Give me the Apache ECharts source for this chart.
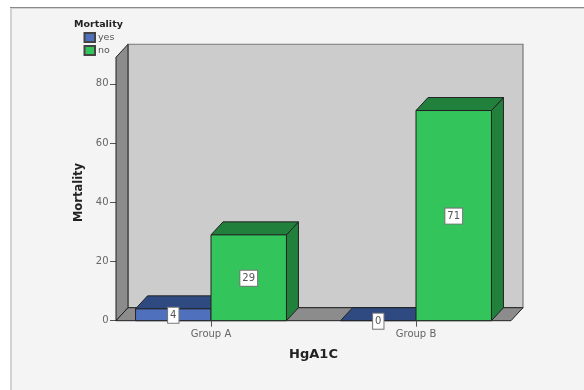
<!DOCTYPE html>
<html>
<head>
<meta charset="utf-8">
<style>html,body{margin:0;padding:0;background:#fff}#chart{width:584px;height:390px}</style>
<script src="https://cdn.jsdelivr.net/npm/echarts@6/dist/echarts.min.js"></script>
</head>
<body>
<div id="chart"></div>
<script>
// Mortality counts by HgA1C group
const categories = ['Group A', 'Group B'];
const yesValues = [4, 0];
const noValues = [29, 71];
const yTicks = [0, 20, 40, 60, 80];

const DEPTH_X = 12, DEPTH_Y = 13;     // oblique offset of the 3D box
const BAR_RATIO = 0.368;              // bar width as a share of one category band
const WALL_MARGIN = 0.4634;           // floor overhang from the first/last category centre
const WALL_TOP = 89;
const EDGE = '#222';

const poly = (points, fill, stroke, width) => ({
  type: 'polygon',
  shape: { points },
  style: { fill, stroke: stroke || EDGE, lineWidth: width === undefined ? 1 : width }
});

// Left wall, back wall and floor of the plot box
function renderChamber(params, api) {
  const band = api.size([1, 0])[0];
  const first = api.coord([0, 0]);
  const last = api.coord([1, 0]);
  const top = api.coord([0, WALL_TOP])[1];
  const l = first[0] - band * WALL_MARGIN;
  const r = last[0] + band * WALL_MARGIN;
  const y0 = first[1];
  return {
    type: 'group',
    children: [
      poly([[l + DEPTH_X, top - DEPTH_Y], [r + DEPTH_X, top - DEPTH_Y], [r + DEPTH_X, y0 - DEPTH_Y], [l + DEPTH_X, y0 - DEPTH_Y]], '#cccccc', '#777', 1.2),
      poly([[l, top], [l + DEPTH_X, top - DEPTH_Y], [l + DEPTH_X, y0 - DEPTH_Y], [l, y0]], '#8c8c8c'),
      poly([[l, y0], [l + DEPTH_X, y0 - DEPTH_Y], [r + DEPTH_X, y0 - DEPTH_Y], [r, y0]], '#8c8c8c')
    ]
  };
}

// One oblique bar: side, top and front faces with its boxed value label
function bar3d(api, side, front, topFill, sideFill) {
  const band = api.size([1, 0])[0];
  const w = band * BAR_RATIO;
  const base = api.coord([api.value(0), 0]);
  const head = api.coord([api.value(0), api.value(1)]);
  const l = side < 0 ? base[0] - w : base[0];
  const r = l + w;
  const y0 = base[1], y1 = head[1];
  const children = [
    poly([[r, y1], [r + DEPTH_X, y1 - DEPTH_Y], [r + DEPTH_X, y0 - DEPTH_Y], [r, y0]], sideFill),
    poly([[l, y1], [l + DEPTH_X, y1 - DEPTH_Y], [r + DEPTH_X, y1 - DEPTH_Y], [r, y1]], topFill)
  ];
  if (y0 - y1 > 0) {
    children.push({ type: 'rect', shape: { x: l, y: y1, width: w, height: y0 - y1 },
      style: { fill: front, stroke: EDGE, lineWidth: 1 } });
  }
  children.push({
    type: 'text', z2: 10,
    style: {
      x: (l + r) / 2, y: (y0 + y1) / 2 + 0.5, text: String(api.value(1)),
      align: 'center', verticalAlign: 'middle',
      font: '10px "DejaVu Sans"', fill: '#555',
      backgroundColor: '#fff', borderColor: '#777', borderWidth: 1,
      padding: [3, 2, 2, 2]
    }
  });
  return { type: 'group', children };
}

const option = {
  animation: false,
  backgroundColor: '#fff',
  graphic: [
    { type: 'rect', z: -10, shape: { x: 11, y: 8, width: 580, height: 390 },
      style: { fill: '#f4f4f4', stroke: '#d2d2d2', lineWidth: 2 } },
    { type: 'line', z: -9, shape: { x1: 10, y1: 7.5, x2: 584, y2: 7.5 },
      style: { stroke: '#8a8a8a', lineWidth: 1 } }
  ],
  title: {
    text: 'Mortality', left: 74, top: 19.5, padding: 0,
    textStyle: { fontFamily: 'DejaVu Sans', fontSize: 9.5, fontWeight: 'bold', color: '#222' }
  },
  legend: {
    data: ['yes', 'no'], orient: 'vertical', left: 83.5, top: 32, padding: 0,
    icon: 'rect', itemWidth: 10.5, itemHeight: 9, itemGap: 2,
    textStyle: { fontFamily: 'DejaVu Sans', fontSize: 9.5, color: '#555', padding: [0, 0, 0, -2] }
  },
  grid: { left: 108.5, width: 410, top: 54.3, height: 266.4 },
  xAxis: {
    type: 'category', data: categories,
    name: 'HgA1C', nameLocation: 'middle', nameGap: 27,
    nameTextStyle: { fontFamily: 'DejaVu Sans', fontSize: 13, fontWeight: 'bold', color: '#222' },
    axisLine: { show: false },
    axisTick: { show: true, alignWithLabel: true, length: 6, lineStyle: { color: '#555' } },
    axisLabel: { fontFamily: 'DejaVu Sans', fontSize: 10, color: '#666', margin: 8.5 },
    z: 5
  },
  yAxis: {
    type: 'value', min: 0, max: 90, offset: -7.5,
    name: 'Mortality', nameLocation: 'middle', nameGap: 30,
    nameTextStyle: { fontFamily: 'DejaVu Sans', fontSize: 11.5, fontWeight: 'bold', color: '#222', padding: [0, 10, 0, 0] },
    axisLine: { show: false },
    splitLine: { show: false },
    axisTick: { show: true, length: 6, customValues: yTicks, lineStyle: { color: '#555' } },
    axisLabel: { fontFamily: 'DejaVu Sans', fontSize: 10, color: '#666', margin: 7.5, padding: [4, 0, 0, 0], customValues: yTicks }
  },
  series: [
    { type: 'custom', name: 'chamber', z: 1, silent: true, data: [[0, WALL_TOP]], renderItem: renderChamber,
      encode: { x: 0, y: 1 } },
    { type: 'custom', name: 'yes', z: 2, encode: { x: 0, y: 1 },
      itemStyle: { color: '#4f71bd', borderColor: '#444', borderWidth: 0.8 },
      data: yesValues.map((v, i) => [i, v]),
      renderItem: (p, api) => bar3d(api, -1, '#4f71bd', '#2e4a80', '#2e4a80') },
    { type: 'custom', name: 'no', z: 3, encode: { x: 0, y: 1 },
      itemStyle: { color: '#33c45c', borderColor: '#444', borderWidth: 0.8 },
      data: noValues.map((v, i) => [i, v]),
      renderItem: (p, api) => bar3d(api, 1, '#33c45c', '#20803c', '#20803c') }
  ]
};
echarts.init(document.getElementById('chart')).setOption(option);
</script>
</body>
</html>
